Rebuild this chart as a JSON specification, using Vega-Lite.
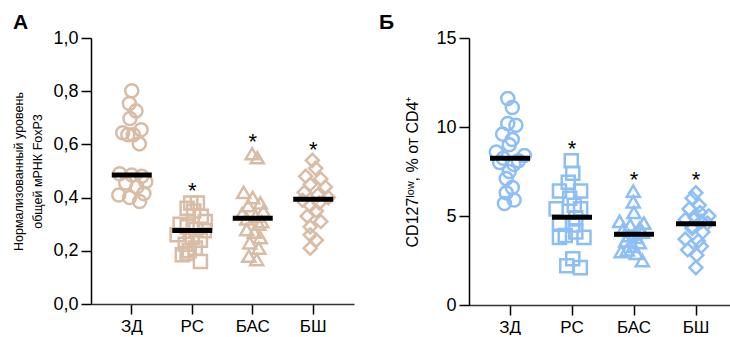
{
  "$schema": "https://vega.github.io/schema/vega-lite/v6.json",
  "padding": {"left": 12, "top": 12, "right": 0, "bottom": 0},
  "spacing": 24,
  "config": {
    "font": "Liberation Sans",
    "view": {"stroke": null},
    "axis": {"grid": false, "domainColor": "black", "domainWidth": 1.5, "tickColor": "black", "tickWidth": 1.5, "tickSize": 10, "labelFontSize": 18, "labelColor": "black", "titleColor": "black", "titleFontWeight": "normal", "labelPadding": 3},
    "title": {"anchor": "start", "fontSize": 21, "fontWeight": "bold", "color": "black"}
  },
  "datasets": {
    "ptsA": [
      {"g":"ЗД","v":0.802,"j":0},{"g":"ЗД","v":0.754,"j":-0.08},{"g":"ЗД","v":0.726,"j":0.14},{"g":"ЗД","v":0.697,"j":-0.06},{"g":"ЗД","v":0.644,"j":-0.3},{"g":"ЗД","v":0.636,"j":-0.13},{"g":"ЗД","v":0.636,"j":0.05},{"g":"ЗД","v":0.655,"j":0.31},{"g":"ЗД","v":0.602,"j":0.25},
      {"g":"ЗД","v":0.49,"j":-0.4},{"g":"ЗД","v":0.485,"j":0},{"g":"ЗД","v":0.48,"j":0.33},{"g":"ЗД","v":0.46,"j":0.46},{"g":"ЗД","v":0.455,"j":-0.2},{"g":"ЗД","v":0.44,"j":0.17},{"g":"ЗД","v":0.41,"j":-0.43},{"g":"ЗД","v":0.415,"j":0.4},{"g":"ЗД","v":0.4,"j":-0.07},{"g":"ЗД","v":0.385,"j":0.26},
      {"g":"РС","v":0.38,"j":-0.05},{"g":"РС","v":0.38,"j":0.17},{"g":"РС","v":0.36,"j":-0.17},{"g":"РС","v":0.35,"j":0.05},{"g":"РС","v":0.33,"j":0.3},{"g":"РС","v":0.31,"j":0.43},{"g":"РС","v":0.3,"j":-0.4},{"g":"РС","v":0.29,"j":-0.17},{"g":"РС","v":0.28,"j":0.12},{"g":"РС","v":0.275,"j":0.4},{"g":"РС","v":0.26,"j":-0.5},{"g":"РС","v":0.25,"j":0},{"g":"РС","v":0.24,"j":0.27},{"g":"РС","v":0.225,"j":-0.23},{"g":"РС","v":0.21,"j":0.1},{"g":"РС","v":0.2,"j":-0.1},{"g":"РС","v":0.19,"j":-0.17},{"g":"РС","v":0.185,"j":-0.33},{"g":"РС","v":0.16,"j":0.27},
      {"g":"БАС","v":0.565,"j":-0.02},{"g":"БАС","v":0.55,"j":0.15},{"g":"БАС","v":0.42,"j":-0.3},{"g":"БАС","v":0.4,"j":0},{"g":"БАС","v":0.38,"j":0.25},{"g":"БАС","v":0.37,"j":-0.15},{"g":"БАС","v":0.35,"j":0.35},{"g":"БАС","v":0.34,"j":-0.35},{"g":"БАС","v":0.33,"j":0.1},{"g":"БАС","v":0.32,"j":-0.2},{"g":"БАС","v":0.31,"j":0.3},{"g":"БАС","v":0.3,"j":0.2},{"g":"БАС","v":0.28,"j":-0.2},{"g":"БАС","v":0.27,"j":0.05},{"g":"БАС","v":0.25,"j":0.25},{"g":"БАС","v":0.23,"j":-0.1},{"g":"БАС","v":0.21,"j":0.2},{"g":"БАС","v":0.18,"j":-0.13},{"g":"БАС","v":0.167,"j":0.13},
      {"g":"БШ","v":0.54,"j":-0.03},{"g":"БШ","v":0.51,"j":0.08},{"g":"БШ","v":0.48,"j":-0.25},{"g":"БШ","v":0.47,"j":0.25},{"g":"БШ","v":0.45,"j":-0.1},{"g":"БШ","v":0.44,"j":0.4},{"g":"БШ","v":0.42,"j":-0.3},{"g":"БШ","v":0.41,"j":0.15},{"g":"БШ","v":0.4,"j":0.5},{"g":"БШ","v":0.39,"j":-0.35},{"g":"БШ","v":0.38,"j":0.2},{"g":"БШ","v":0.37,"j":-0.1},{"g":"БШ","v":0.35,"j":0.1},{"g":"БШ","v":0.33,"j":-0.2},{"g":"БШ","v":0.31,"j":0.25},{"g":"БШ","v":0.29,"j":-0.1},{"g":"БШ","v":0.26,"j":-0.1},{"g":"БШ","v":0.24,"j":0.1},{"g":"БШ","v":0.21,"j":-0.1}
    ],
    "medA": [{"g":"ЗД","v":0.485},{"g":"РС","v":0.276},{"g":"БАС","v":0.322},{"g":"БШ","v":0.394}],
    "starA": [{"g":"РС","v":0.444},{"g":"БАС","v":0.628},{"g":"БШ","v":0.598}],
    "ptsB": [
      {"g":"ЗД","v":11.6,"j":-0.05},{"g":"ЗД","v":11.1,"j":0.1},{"g":"ЗД","v":10.2,"j":-0.05},{"g":"ЗД","v":10.1,"j":0.22},{"g":"ЗД","v":9.6,"j":-0.22},{"g":"ЗД","v":9.3,"j":0.1},{"g":"ЗД","v":9.0,"j":0},{"g":"ЗД","v":8.6,"j":-0.43},{"g":"ЗД","v":8.4,"j":0.5},{"g":"ЗД","v":8.25,"j":-0.2},{"g":"ЗД","v":8.1,"j":0.3},{"g":"ЗД","v":8.0,"j":-0.32},{"g":"ЗД","v":7.9,"j":0.15},{"g":"ЗД","v":7.5,"j":0},{"g":"ЗД","v":7.1,"j":-0.1},{"g":"ЗД","v":6.6,"j":0.1},{"g":"ЗД","v":6.3,"j":-0.1},{"g":"ЗД","v":5.9,"j":0.16},{"g":"ЗД","v":5.7,"j":-0.16},
      {"g":"РС","v":8.1,"j":0},{"g":"РС","v":7.4,"j":0.05},{"g":"РС","v":6.9,"j":-0.1},{"g":"РС","v":6.4,"j":-0.39},{"g":"РС","v":6.4,"j":0.31},{"g":"РС","v":6.0,"j":-0.05},{"g":"РС","v":5.6,"j":0.1},{"g":"РС","v":5.4,"j":-0.5},{"g":"РС","v":5.4,"j":0.31},{"g":"РС","v":4.9,"j":0.15},{"g":"РС","v":4.6,"j":-0.39},{"g":"РС","v":4.5,"j":0.05},{"g":"РС","v":4.1,"j":0.15},{"g":"РС","v":3.9,"j":-0.2},{"g":"РС","v":3.8,"j":-0.39},{"g":"РС","v":3.8,"j":0.42},{"g":"РС","v":2.6,"j":0.05},{"g":"РС","v":2.2,"j":-0.15},{"g":"РС","v":2.1,"j":0.3},
      {"g":"БАС","v":6.4,"j":0},{"g":"БАС","v":5.8,"j":0},{"g":"БАС","v":5.2,"j":0.02},{"g":"БАС","v":4.7,"j":-0.45},{"g":"БАС","v":4.6,"j":0.35},{"g":"БАС","v":4.5,"j":-0.1},{"g":"БАС","v":4.3,"j":0.2},{"g":"БАС","v":4.2,"j":-0.35},{"g":"БАС","v":4.1,"j":0.3},{"g":"БАС","v":4.0,"j":0.05},{"g":"БАС","v":3.9,"j":-0.15},{"g":"БАС","v":3.8,"j":0.1},{"g":"БАС","v":3.6,"j":-0.25},{"g":"БАС","v":3.5,"j":0.2},{"g":"БАС","v":3.3,"j":0},{"g":"БАС","v":3.1,"j":-0.2},{"g":"БАС","v":3.0,"j":-0.4},{"g":"БАС","v":2.9,"j":0.1},{"g":"БАС","v":2.5,"j":0.3},
      {"g":"БШ","v":6.3,"j":0.02},{"g":"БШ","v":6.0,"j":-0.1},{"g":"БШ","v":5.6,"j":0.13},{"g":"БШ","v":5.4,"j":-0.2},{"g":"БШ","v":5.2,"j":0.16},{"g":"БШ","v":5.0,"j":0.45},{"g":"БШ","v":4.9,"j":0},{"g":"БШ","v":4.8,"j":-0.33},{"g":"БШ","v":4.7,"j":0.2},{"g":"БШ","v":4.6,"j":0.4},{"g":"БШ","v":4.4,"j":-0.1},{"g":"БШ","v":4.3,"j":-0.1},{"g":"БШ","v":4.1,"j":0.25},{"g":"БШ","v":3.7,"j":-0.33},{"g":"БШ","v":3.6,"j":0.1},{"g":"БШ","v":3.3,"j":0.2},{"g":"БШ","v":3.1,"j":-0.25},{"g":"БШ","v":2.8,"j":0.05},{"g":"БШ","v":2.1,"j":0.02}
    ],
    "medB": [{"g":"ЗД","v":8.25},{"g":"РС","v":4.93},{"g":"БАС","v":3.98},{"g":"БШ","v":4.57}],
    "starB": [{"g":"РС","v":9.02},{"g":"БАС","v":7.3},{"g":"БШ","v":7.3}]
  },
  "hconcat": [
    {
      "width": 263,
      "height": 266,
      "title": {"text": "А", "offset": -4},
      "layer": [
        {
          "data": {"name": "ptsA"},
          "mark": {"type": "point", "filled": false, "strokeWidth": 2.5, "opacity": 1, "size": 170, "color": "#D8BCA6"},
          "encoding": {
            "x": {"field": "g", "type": "nominal", "sort": ["ЗД","РС","БАС","БШ"], "scale": {"type": "band", "paddingInner": 0, "paddingOuter": 0.174}, "axis": {"title": null, "labelAngle": 0, "labelFontSize": 17, "domainColor": "#333", "labelPadding": 4}},
            "xOffset": {"field": "j", "type": "quantitative", "scale": {"domain": [-1, 1]}},
            "y": {"field": "v", "type": "quantitative", "scale": {"domain": [0, 1], "nice": false}, "axis": {"values": [0, 0.2, 0.4, 0.6, 0.8, 1], "labelExpr": "replace(format(datum.value, '.1f'), '.', ',')", "title": ["Нормализованный уровень", "общей мРНК FoxP3"], "titleFontSize": 12.5, "titleLineHeight": 19, "titlePadding": 8}},
            "shape": {"field": "g", "type": "nominal", "scale": {"domain": ["ЗД","РС","БАС","БШ"], "range": ["circle","square","triangle-up","diamond"]}, "legend": null}
          }
        },
        {
          "data": {"name": "medA"},
          "mark": {"type": "tick", "thickness": 5, "size": 40, "color": "black", "opacity": 1},
          "encoding": {
            "x": {"field": "g", "type": "nominal", "sort": ["ЗД","РС","БАС","БШ"]},
            "y": {"field": "v", "type": "quantitative"}
          }
        },
        {
          "data": {"name": "starA"},
          "mark": {"type": "text", "text": "*", "fontSize": 22, "baseline": "alphabetic", "dy": 12, "color": "black"},
          "encoding": {
            "x": {"field": "g", "type": "nominal", "sort": ["ЗД","РС","БАС","БШ"]},
            "y": {"field": "v", "type": "quantitative"}
          }
        }
      ]
    },
    {
      "width": 261,
      "height": 267,
      "title": {"text": "Б", "offset": -4, "dx": -26},
      "layer": [
        {
          "data": {"name": "ptsB"},
          "mark": {"type": "point", "filled": false, "strokeWidth": 2.5, "opacity": 1, "size": 170, "color": "#8DBEF5"},
          "encoding": {
            "x": {"field": "g", "type": "nominal", "sort": ["ЗД","РС","БАС","БШ"], "scale": {"type": "band", "paddingInner": 0, "paddingOuter": 0.105, "align": 0.77}, "axis": {"title": null, "labelAngle": 0, "labelFontSize": 17, "domainColor": "#333", "labelPadding": 4}},
            "xOffset": {"field": "j", "type": "quantitative", "scale": {"domain": [-1, 1]}},
            "y": {"field": "v", "type": "quantitative", "scale": {"domain": [0, 15], "nice": false}, "axis": {"values": [0, 5, 10, 15], "title": "CD127ˡᵒʷ, % от CD4⁺", "titleFontSize": 16, "titlePadding": 15}},
            "shape": {"field": "g", "type": "nominal", "scale": {"domain": ["ЗД","РС","БАС","БШ"], "range": ["circle","square","triangle-up","diamond"]}, "legend": null}
          }
        },
        {
          "data": {"name": "medB"},
          "mark": {"type": "tick", "thickness": 5, "size": 40, "color": "black", "opacity": 1},
          "encoding": {
            "x": {"field": "g", "type": "nominal", "sort": ["ЗД","РС","БАС","БШ"]},
            "y": {"field": "v", "type": "quantitative"}
          }
        },
        {
          "data": {"name": "starB"},
          "mark": {"type": "text", "text": "*", "fontSize": 22, "baseline": "alphabetic", "dy": 12, "color": "black"},
          "encoding": {
            "x": {"field": "g", "type": "nominal", "sort": ["ЗД","РС","БАС","БШ"]},
            "y": {"field": "v", "type": "quantitative"}
          }
        }
      ]
    }
  ]
}
